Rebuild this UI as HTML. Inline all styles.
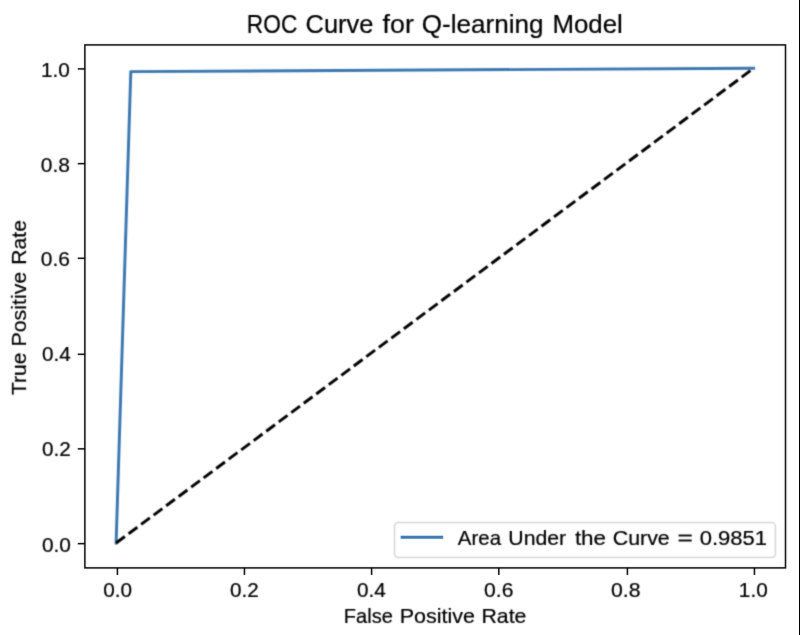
<!DOCTYPE html>
<html>
<head>
<meta charset="utf-8">
<title>ROC Curve for Q-learning Model</title>
<style>
  html, body { margin: 0; padding: 0; background: #ffffff; }
  body { width: 800px; height: 635px; overflow: hidden; position: relative; }
  svg { position: absolute; left: 0; top: 0; display: block; }
  text { font-family: "Liberation Sans", sans-serif; fill: #000000; stroke: #000000; stroke-width: 0.22px; white-space: pre; }
  .spine { stroke: #000000; stroke-width: 1.5; fill: none; }
  .tk line { stroke: #000000; stroke-width: 1.5; }
</style>
</head>
<body>
<svg width="800" height="635" viewBox="0 0 800 635">
  <defs>
    <filter id="softS" x="0" y="0" width="800" height="635" filterUnits="userSpaceOnUse" color-interpolation-filters="sRGB"><feConvolveMatrix order="3" kernelMatrix="0.00524 0.06192 0.00524 0.06192 0.73137 0.06192 0.00524 0.06192 0.00524" edgeMode="none" preserveAlpha="false"/></filter>
    <filter id="softT" x="0" y="0" width="800" height="635" filterUnits="userSpaceOnUse" color-interpolation-filters="sRGB"><feConvolveMatrix order="3" kernelMatrix="0.02768 0.11101 0.02768 0.11101 0.44521 0.11101 0.02768 0.11101 0.02768" edgeMode="none" preserveAlpha="false"/></filter>
    <filter id="softL" x="0" y="0" width="800" height="635" filterUnits="userSpaceOnUse" color-interpolation-filters="sRGB"><feConvolveMatrix order="5" kernelMatrix="0.00001 0.00062 0.00227 0.00062 0.00001 0.00062 0.03065 0.11253 0.03065 0.00062 0.00227 0.11253 0.41321 0.11253 0.00227 0.00062 0.03065 0.11253 0.03065 0.00062 0.00001 0.00062 0.00227 0.00062 0.00001" edgeMode="none" preserveAlpha="false"/></filter>
  </defs>
  <rect x="0" y="0" width="800" height="635" fill="#ffffff"/>
  <!-- ROC curve and chance diagonal -->
  <g filter="url(#softL)">
    <polyline points="116.1,543.05 130.8,71.65 753.65,68.25" fill="none" stroke="#3a76b0" stroke-width="2.94" stroke-linejoin="round" stroke-linecap="square"/>
    <line x1="116.1" y1="543.05" x2="753.65" y2="68.25" stroke="#000000" stroke-width="2.94" stroke-dasharray="10.89 4.71"/>
  </g>
  <!-- axes frame and ticks -->
  <g filter="url(#softS)">
    <rect class="spine" x="84.87" y="44.9" width="700.63" height="523.00"/>
    <g class="tk"><line x1="117.40" y1="567.9" x2="117.40" y2="575.00"/><line x1="244.45" y1="567.9" x2="244.45" y2="575.00"/><line x1="371.60" y1="567.9" x2="371.60" y2="575.00"/><line x1="498.80" y1="567.9" x2="498.80" y2="575.00"/><line x1="627.40" y1="567.9" x2="627.40" y2="575.00"/><line x1="754.45" y1="567.9" x2="754.45" y2="575.00"/></g>
    <g class="tk"><line x1="77.77" y1="543.65" x2="84.87" y2="543.65"/><line x1="77.77" y1="448.85" x2="84.87" y2="448.85"/><line x1="77.77" y1="354.30" x2="84.87" y2="354.30"/><line x1="77.77" y1="258.30" x2="84.87" y2="258.30"/><line x1="77.77" y1="163.65" x2="84.87" y2="163.65"/><line x1="77.77" y1="68.90" x2="84.87" y2="68.90"/></g>
  </g>
  <!-- title, tick labels, axis labels -->
  <g filter="url(#softT)">
    <g><text font-size="25.35" transform="translate(246.86 32.50) scale(0.8958 1)">ROC </text><text font-size="25.35" transform="translate(305.60 32.50) scale(1.0038 1)">Curve </text><text font-size="25.35" transform="translate(382.59 32.50) scale(1.0586 1)">for </text><text font-size="25.35" transform="translate(421.76 32.50) scale(1.0294 1)">Q-learning </text><text font-size="25.35" transform="translate(552.41 32.50) scale(1.0199 1)">Model</text></g>
    <g><text font-size="21.1" transform="translate(103.16 596.50) scale(0.9838 1)">0.0</text><text font-size="21.1" transform="translate(230.06 596.50) scale(0.9807 1)">0.2</text><text font-size="21.1" transform="translate(357.06 596.50) scale(0.9821 1)">0.4</text><text font-size="21.1" transform="translate(484.05 596.50) scale(1.0000 1)">0.6</text><text font-size="21.1" transform="translate(611.05 596.50) scale(1.0055 1)">0.8</text><text font-size="21.1" transform="translate(738.82 596.50) scale(0.9852 1)">1.0</text></g>
    <g><text font-size="21.1" transform="translate(41.96 551.95) scale(0.9892 1)">0.0</text><text font-size="21.1" transform="translate(41.96 455.70) scale(0.9818 1)">0.2</text><text font-size="21.1" transform="translate(41.96 360.95) scale(0.9804 1)">0.4</text><text font-size="21.1" transform="translate(40.85 266.30) scale(0.9945 1)">0.6</text><text font-size="21.1" transform="translate(40.85 171.55) scale(0.9945 1)">0.8</text><text font-size="21.1" transform="translate(40.92 76.50) scale(0.9852 1)">1.0</text></g>
    <g><text font-size="21.1" transform="translate(343.79 623.10) scale(0.9510 1)">False </text><text font-size="21.1" transform="translate(399.67 623.10) scale(1.0189 1)">Positive </text><text font-size="21.1" transform="translate(481.49 623.10) scale(1.0084 1)">Rate</text></g>
    <g><text font-size="21.1" transform="translate(26.30 394.95) rotate(-90) scale(0.9939 1)">True </text><text font-size="21.1" transform="translate(26.30 346.62) rotate(-90) scale(1.0133 1)">Positive </text><text font-size="21.1" transform="translate(26.30 264.70) rotate(-90) scale(1.0000 1)">Rate</text></g>
  </g>
  <!-- legend -->
  <g filter="url(#softT)">
    <rect x="394.5" y="522.55" width="380.9" height="34.95" rx="3.9" ry="3.9" fill="#ffffff" fill-opacity="0.8" stroke="#cccccc" stroke-opacity="0.8" stroke-width="1.5"/>
  </g>
  <g filter="url(#softS)">
    <line x1="402.1" y1="537.3" x2="441.7" y2="537.3" stroke="#3a76b0" stroke-width="2.94" stroke-linecap="square"/>
  </g>
  <g filter="url(#softT)">
    <g><text font-size="21.1" transform="translate(457.85 544.50) scale(0.9685 1)">Area </text><text font-size="21.1" transform="translate(508.29 544.50) scale(1.0081 1)">Under </text><text font-size="21.1" transform="translate(574.88 544.50) scale(1.0643 1)">the </text><text font-size="21.1" transform="translate(612.74 544.50) scale(1.0120 1)">Curve </text><text font-size="21.1" transform="translate(677.60 544.50) scale(1.2488 1)">= </text><text font-size="21.1" transform="translate(699.67 544.50) scale(1.0438 1)">0.9851</text></g>
  </g>
  <!-- right edge line -->
  <rect x="799" y="0" width="1" height="635" fill="#000000"/>
</svg>
</body>
</html>
